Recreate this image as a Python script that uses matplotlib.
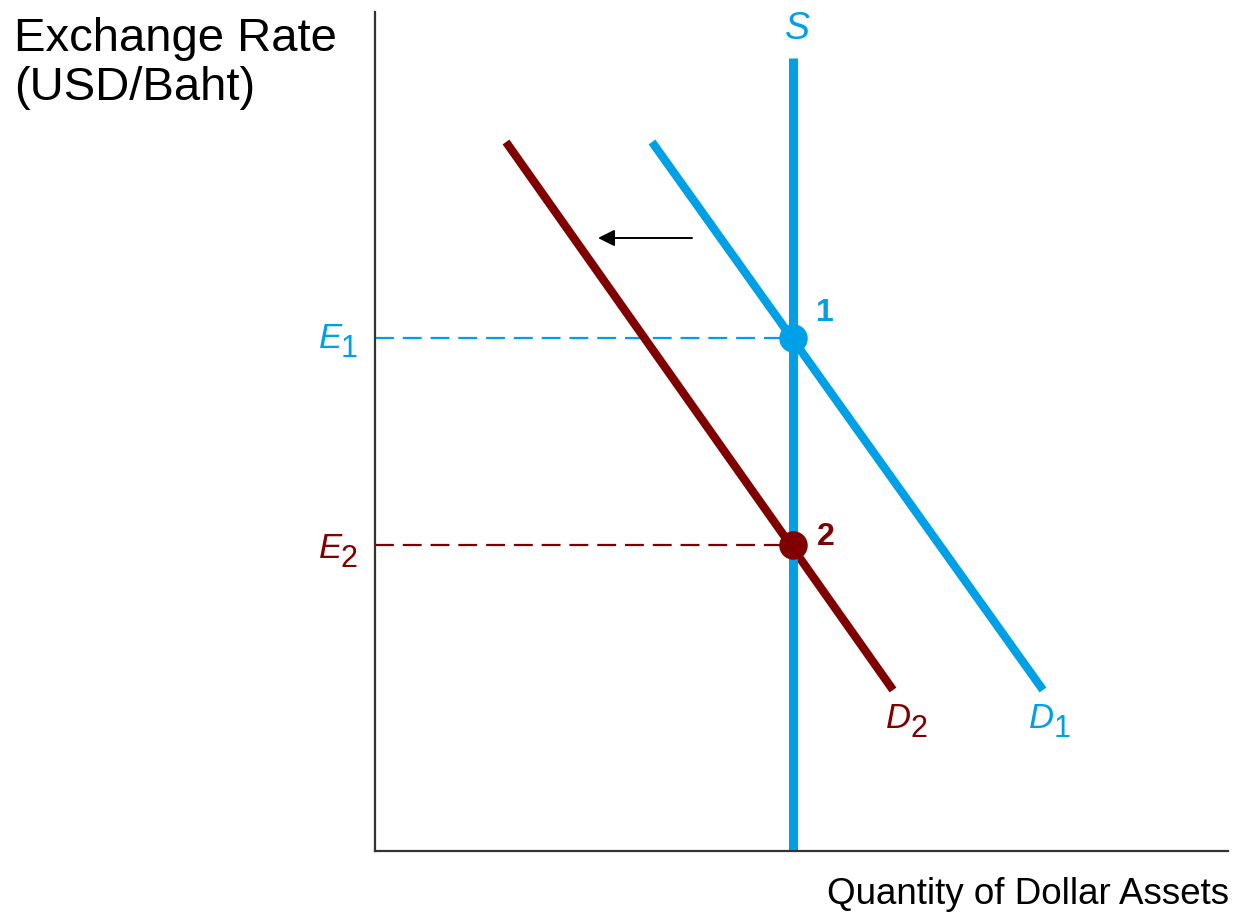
import matplotlib.pyplot as plt

plt.rcParams['font.family'] = ['Liberation Sans', 'DejaVu Sans']

BLUE = '#00a0e6'
RED = '#800000'

# curve endpoints (chart units, origin at the axes corner)
supply_x = [418, 418]
supply_y = [0, 793]
d1_x = [277, 668]
d1_y = [709, 161]
d2_x = [131, 518]
d2_y = [709, 161]
# equilibria
eq_x = [418, 418]
eq_y = [513, 306]
eq_labels = ['1', '2']
# shift arrow
arrow_from = (317, 613)
arrow_to = (223, 613)


def sub_label(ax, x, y, main, sub, color, gap=22):
    # italic letter with a near full-size subscript, as in the textbook figure
    ax.annotate(main, (x, y), color=color, fontsize=25, fontstyle='italic',
                ha='left', va='baseline', annotation_clip=False)
    ax.annotate(sub, (x, y), xytext=(gap, -9), textcoords='offset pixels',
                color=color, fontsize=22, ha='left', va='baseline',
                annotation_clip=False)


fig = plt.figure(figsize=(12.34, 9.14), dpi=100)
ax = fig.add_axes([375 / 1234, 63 / 914, 853 / 1234, 839 / 914])
ax.set_xlim(0, 853)
ax.set_ylim(0, 839)
ax.set_xticks([])
ax.set_yticks([])
for side in ['top', 'right']:
    ax.spines[side].set_visible(False)
for side in ['left', 'bottom']:
    ax.spines[side].set_color('#333333')
    ax.spines[side].set_linewidth(1.6)

# dashed guide lines
ax.plot([0, eq_x[0]], [eq_y[0], eq_y[0]], color=BLUE, lw=1.6, ls=(0, (8.5, 4)))
ax.plot([0, eq_x[1]], [eq_y[1], eq_y[1]], color=RED, lw=1.6, ls=(0, (8.5, 4)))

ax.plot(d2_x, d2_y, color=RED, lw=6, solid_capstyle='butt')
ax.plot(d1_x, d1_y, color=BLUE, lw=6, solid_capstyle='butt')
ax.plot(supply_x, supply_y, color=BLUE, lw=6.5, solid_capstyle='butt', clip_on=False)

ax.plot(eq_x[0], eq_y[0], 'o', color=BLUE, ms=19.5, zorder=5)
ax.plot(eq_x[1], eq_y[1], 'o', color=RED, ms=19.5, zorder=5)
ax.text(eq_x[0] + 32, eq_y[0] + 25, eq_labels[0], color=BLUE, fontsize=23,
        fontweight='bold', ha='center', va='center')
ax.text(eq_x[1] + 33, eq_y[1] + 8, eq_labels[1], color=RED, fontsize=23,
        fontweight='bold', ha='center', va='center')

ax.annotate('', xy=arrow_to, xytext=arrow_from,
            arrowprops=dict(arrowstyle='-|>', color='black', lw=1.4,
                            mutation_scale=25, shrinkA=0, shrinkB=0))

# curve labels
ax.text(supply_x[0] + 4, 822, 'S', color=BLUE, fontsize=27, fontstyle='italic',
        ha='center', va='center', clip_on=False)
sub_label(ax, 511, 123, 'D', '2', RED, gap=25)
sub_label(ax, 654, 123, 'D', '1', BLUE, gap=25)
sub_label(ax, -56, 503, 'E', '1', BLUE)
sub_label(ax, -56, 293, 'E', '2', RED)

fig.text(14 / 1234, 1 - 17 / 914, 'Exchange Rate\n(USD/Baht)', fontsize=34,
         ha='left', va='top', linespacing=1.16)
fig.text(1229 / 1234, 1 - 895 / 914, 'Quantity of Dollar Assets', fontsize=26.5,
         ha='right', va='center')

fig.savefig('out.png', dpi=100)
